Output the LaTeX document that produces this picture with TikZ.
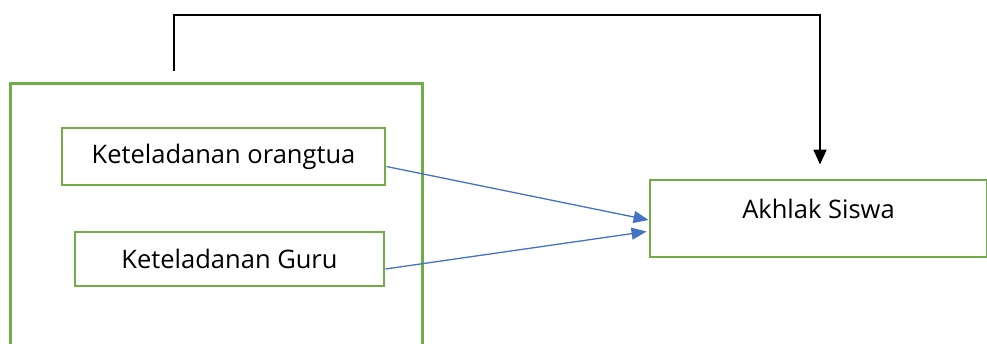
\documentclass[tikz,border=0pt]{standalone}
\usepackage{fontspec}
\setmainfont{Open Sans}
\usetikzlibrary{arrows.meta,calc}
\definecolor{gbox}{HTML}{70AD47}
\definecolor{barrow}{HTML}{4472C4}
\tikzset{
  greenbox/.style={draw=gbox, line width=2.9pt, rectangle, inner sep=0pt, fill=none},
  lbl/.style={font=\fontsize{25.5}{30}\selectfont, text=black},
  bluearrow/.style={draw=barrow, line width=1.3pt, -{Triangle[length=15pt,width=12pt]}},
  blackarrow/.style={draw=black, line width=2pt, -{Triangle[length=15pt,width=13pt]}}
}
\begin{document}
\begin{tikzpicture}[x=1pt,y=-1pt]
\useasboundingbox (0,0) rectangle (987,343);
\clip (0,0) rectangle (987,343);
\node[greenbox, minimum width=412pt, minimum height=320pt, anchor=north west] (outer) at (9,82) {};
\node[greenbox, lbl, minimum width=323pt, minimum height=57pt] (o1) at (223.5,156.5) {Keteladanan orangtua};
\node[greenbox, lbl, minimum width=309pt, minimum height=54pt] (g1) at (229.5,259) {Keteladanan Guru};
\node[greenbox, lbl, minimum width=337pt, minimum height=77pt, text height=18pt, text depth=18pt] (ak) at (818.5,218.5) {Akhlak Siswa};
\coordinate (fb) at (174,71);
\draw[bluearrow] ($(o1.east)+(0,10)$) -- ($(ak.west)+(0,1.5)$);
\draw[bluearrow] ($(g1.east)+(0,10)$) -- ($(ak.west)+(-2,13)$);
\draw[blackarrow, shorten >=14pt] (fb) -- ++(0,-56) -| ([xshift=1.5pt]ak.north);
\end{tikzpicture}
\end{document}
